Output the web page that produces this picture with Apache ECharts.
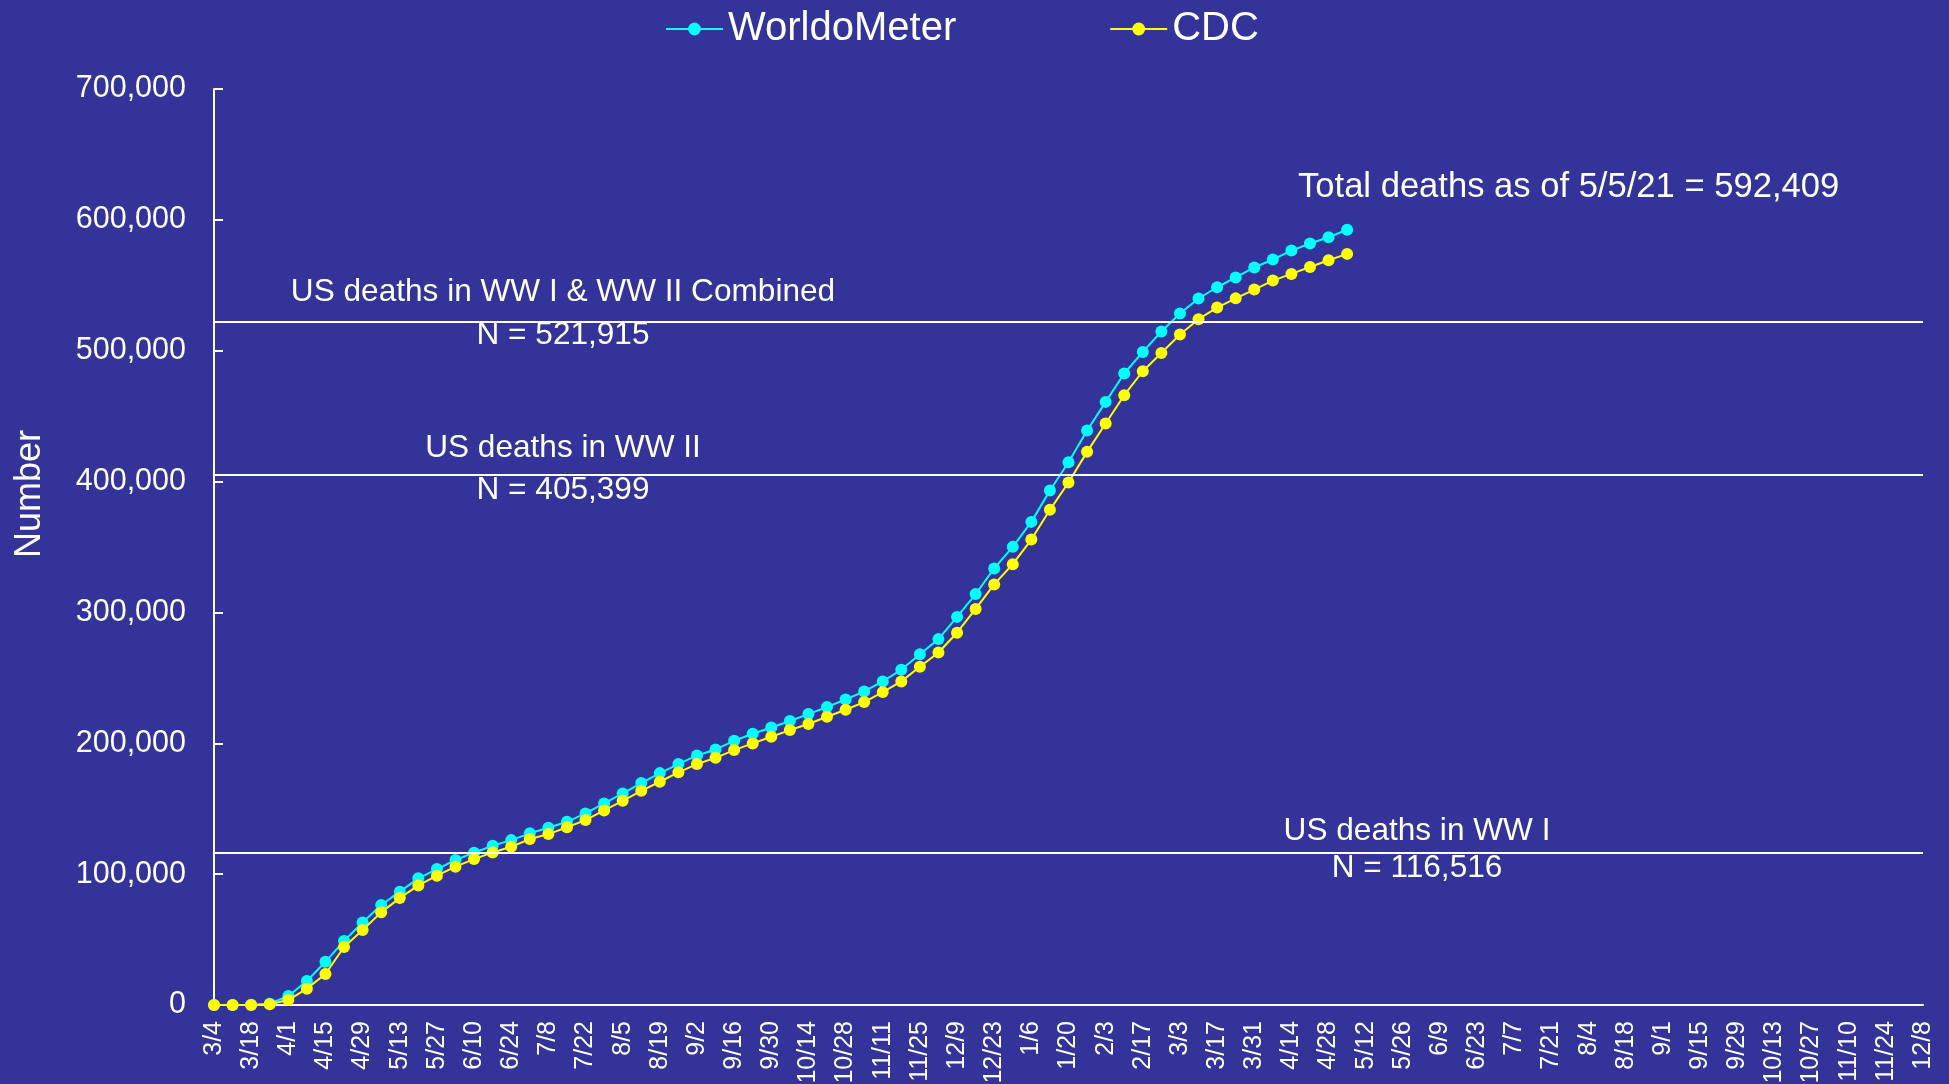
<!DOCTYPE html>
<html>
<head>
<meta charset="utf-8">
<title>US COVID-19 deaths</title>
<script src="https://cdn.jsdelivr.net/npm/echarts@6/dist/echarts.min.js"></script>
<style>
  html, body { margin: 0; padding: 0; background: #333399; }
  #chart { width: 1949px; height: 1084px; }
</style>
</head>
<body>
<div id="chart"></div>
<script>
// Weekly dates, 3/4/2020 through 12/8/2021
const weekLabels = [
  '3/4','3/11','3/18','3/25','4/1','4/8','4/15','4/22','4/29','5/6','5/13','5/20','5/27','6/3','6/10','6/17','6/24',
  '7/1','7/8','7/15','7/22','7/29','8/5','8/12','8/19','8/26','9/2','9/9','9/16','9/23','9/30','10/7','10/14','10/21',
  '10/28','11/4','11/11','11/18','11/25','12/2','12/9','12/16','12/23','12/30','1/6','1/13','1/20','1/27','2/3','2/10',
  '2/17','2/24','3/3','3/10','3/17','3/24','3/31','4/7','4/14','4/21','4/28','5/5','5/12','5/19','5/26','6/2','6/9',
  '6/16','6/23','6/30','7/7','7/14','7/21','7/28','8/4','8/11','8/18','8/25','9/1','9/8','9/15','9/22','9/29','10/6',
  '10/13','10/20','10/27','11/3','11/10','11/17','11/24','12/1','12/8'
];

// Cumulative deaths, WorldoMeter
const worldoMeter = [
  11, 40, 150, 1050, 6900, 18300, 33000, 49000, 63000, 76400,
  86600, 96800, 103900, 110800, 116400, 121700, 126000, 131200, 135500, 140000,
  146400, 154000, 161700, 169600, 177200, 184100, 190700, 195300, 201900, 207300,
  212100, 217000, 222300, 227700, 233500, 239600, 247300, 256200, 268100, 279600,
  296600, 314000, 333600, 350100, 369200, 393200, 414800, 439000, 460900, 482600,
  499100, 514700, 528400, 539900, 548500, 556000, 563600, 569700, 576500, 581900,
  586700, 592409
];

// Cumulative deaths, CDC
const cdc = [
  0, 0, 0, 500, 3800, 12500, 23700, 44300, 57300, 70800,
  81700, 91400, 98800, 105700, 111500, 116600, 120900, 126800, 130600, 135800,
  141300, 148700, 156000, 163700, 170600, 177800, 184100, 188900, 194800, 199900,
  205000, 210100, 214700, 220300, 225600, 231500, 239100, 247300, 258500, 269400,
  284500, 302700, 321400, 336900, 355700, 378400, 399300, 422700, 444400, 466000,
  484300, 498300, 512400, 524100, 533000, 540000, 546700, 553600, 558700, 564000,
  569100, 574000
];

// War death reference levels
const warNames = ['US deaths in WW I & WW II Combined', 'US deaths in WW II', 'US deaths in WW I'];
const warDeaths = [521915, 405399, 116516];

const totalDate = '5/5/21';
const yTicks = { min: 0, max: 700000, step: 100000 };

const FONT = '"Liberation Sans", Arial, sans-serif';
const fmt = v => v.toLocaleString('en-US');

const chart = echarts.init(document.getElementById('chart'), null, { renderer: 'canvas' });

function txt(text, x, y, size, align) {
  return {
    type: 'text', x: x, y: y, silent: true,
    style: {
      text: text, fill: '#ffffff', font: size + 'px ' + FONT,
      align: align, verticalAlign: 'middle',
      textAlign: align, textVerticalAlign: 'middle'
    }
  };
}

const annotations = [
  txt(warNames[0], 563, 292.5, 31.6, 'center'),
  txt('N = ' + fmt(warDeaths[0]), 563, 335.5, 31.6, 'center'),
  txt(warNames[1], 563, 448.5, 31.6, 'center'),
  txt('N = ' + fmt(warDeaths[1]), 563, 490.5, 31.6, 'center'),
  txt(warNames[2], 1417, 831.5, 31.6, 'center'),
  txt('N = ' + fmt(warDeaths[2]), 1417, 868.5, 31.6, 'center'),
  txt('Total deaths as of ' + totalDate + ' = ' + fmt(worldoMeter[worldoMeter.length - 1]), 1298, 187.5, 34.6, 'left'),
  Object.assign(txt('Number', 30, 494, 36, 'center'), { rotation: Math.PI / 2 })
];

chart.setOption({
  backgroundColor: '#333399',
  animation: false,
  textStyle: { fontFamily: FONT },
  legend: {
    left: 660, top: 4,
    itemWidth: 57, itemHeight: 16, itemGap: 153,
    textStyle: { color: '#ffffff', fontSize: 40, fontFamily: FONT },
    data: ['WorldoMeter', 'CDC']
  },
  grid: {
    left: 214, right: 26, top: 89, bottom: 79,
    containLabel: false, outerBoundsMode: 'none'
  },
  xAxis: {
    type: 'category',
    data: weekLabels,
    boundaryGap: false,
    axisLine: { show: true, lineStyle: { color: '#ffffff', width: 2 } },
    axisTick: { show: false },
    axisLabel: {
      color: '#ffffff', fontSize: 25, fontFamily: FONT,
      rotate: 90, interval: 1, margin: 16
    },
    splitLine: { show: false }
  },
  yAxis: {
    type: 'value',
    min: yTicks.min, max: yTicks.max, interval: yTicks.step,
    axisLine: { show: true, lineStyle: { color: '#ffffff', width: 2 } },
    axisTick: { show: true, inside: true, length: 9, lineStyle: { color: '#ffffff', width: 2 } },
    axisLabel: { color: '#ffffff', fontSize: 30.5, fontFamily: FONT, margin: 28, formatter: v => fmt(v) },
    splitLine: { show: false }
  },
  series: [
    {
      name: 'WorldoMeter', type: 'line', data: worldoMeter,
      symbol: 'circle', symbolSize: 12, showAllSymbol: true,
      itemStyle: { color: '#00ffff' },
      lineStyle: { color: '#00ffff', width: 2 },
      markLine: {
        silent: true, symbol: 'none',
        label: { show: false },
        lineStyle: { color: '#ffffff', width: 2, type: 'solid' },
        data: warDeaths.map(v => ({ yAxis: v }))
      },
      z: 2
    },
    {
      name: 'CDC', type: 'line', data: cdc,
      symbol: 'circle', symbolSize: 12, showAllSymbol: true,
      itemStyle: { color: '#ffff00' },
      lineStyle: { color: '#ffff00', width: 2 },
      z: 3
    }
  ],
  graphic: annotations
});
</script>
</body>
</html>
